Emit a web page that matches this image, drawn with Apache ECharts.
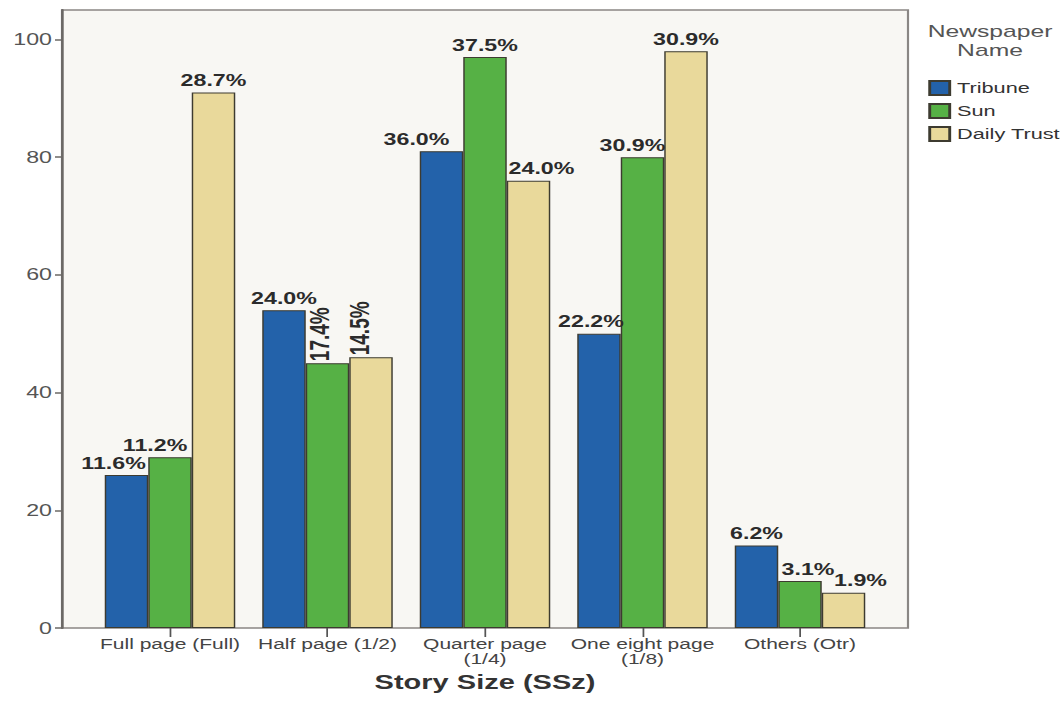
<!DOCTYPE html>
<html>
<head>
<meta charset="utf-8">
<script src="https://cdn.jsdelivr.net/npm/echarts@6/dist/echarts.min.js"></script>
<style>
  html, body { margin: 0; padding: 0; background: #ffffff; overflow: hidden; }
  #wrap { width: 1062px; height: 717px; overflow: hidden; }
  #chart { width: 732px; height: 717px; transform-origin: 0 0; }
</style>
</head>
<body>
<div id="wrap"><div id="chart"></div></div>
<script>
// ---- data ----
const categories = ['Full page (Full)', 'Half page (1/2)', 'Quarter page\n(1/4)', 'One eight page\n(1/8)', 'Others (Otr)'];
const seriesNames = ['Tribune', 'Sun', 'Daily Trust'];
const tribune = [26, 54, 81, 50, 14];
const sun = [29, 45, 97, 80, 8];
const dailyTrust = [91, 46, 76, 98, 6];
const tribuneLabels = ['11.6%', '24.0%', '36.0%', '22.2%', '6.2%'];
const sunLabels = ['11.2%', '17.4%', '37.5%', '30.9%', '3.1%'];
const dailyTrustLabels = ['28.7%', '14.5%', '24.0%', '30.9%', '1.9%'];
const yTicks = [0, 20, 40, 60, 80, 100];
const xTitle = 'Story Size (SSz)';
const legendTitle = 'Newspaper\nName';

// ---- layout (the original image is horizontally stretched) ----
const W = 732, S = 1062 / W;
document.getElementById('chart').style.transform = 'scaleX(' + S + ')';
const X = v => v / S;           // target px -> native px
const FONT = "'Liberation Sans', Arial, sans-serif";

// label offsets (target px) and rotation, per series per category
const labelDx = [
  [-13, 0, -25, -8, 0],
  [-15, -8, 0, -10, 8],
  [0, -11, 13, 0, 17]
];
const labelRot = [
  [false, false, false, false, false],
  [false, true, false, false, false],
  [false, true, false, false, false]
];
const colors = ['#2362aa', '#56b145', '#e9d99b'];
const values = [tribune, sun, dailyTrust];
const texts = [tribuneLabels, sunLabels, dailyTrustLabels];

const series = seriesNames.map((name, si) => ({
  name: name,
  type: 'bar',
  xAxisIndex: 1,
  yAxisIndex: 1,
  barWidth: X(43.5),
  barGap: '0%',
  itemStyle: { color: colors[si], borderColor: '#3d3b30', borderWidth: 1 },
  data: values[si].map((v, ci) => {
    const rot = labelRot[si][ci];
    const lab = {
      show: true,
      position: 'top',
      distance: 4,
      formatter: texts[si][ci],
      fontFamily: FONT,
      fontWeight: 'bold',
      fontSize: 16,
      color: '#2b2b2b'
    };
    if (rot) {
      lab.rotate = 90;
      lab.align = 'left';
      lab.verticalAlign = 'middle';
      lab.fontSize = 19;
      lab.distance = 2;
      lab.offset = [0, X(labelDx[si][ci])];
    } else {
      lab.offset = [X(labelDx[si][ci]), 0];
    }
    return { value: v, label: lab };
  })
}));

const chart = echarts.init(document.getElementById('chart'), null, { renderer: 'svg', width: W, height: 717 });
const frameL = X(62), frameR = X(908);
const barL = X(91.25), barR = X(878.75);
chart.setOption({
  animation: false,
  backgroundColor: '#ffffff',
  grid: [
    { left: frameL, right: W - frameR, top: 10, bottom: 89, show: true,
      backgroundColor: '#f8f7f3', borderColor: '#8a8784', borderWidth: 1.5 },
    { left: barL, right: W - barR, top: 10, bottom: 89 }
  ],
  legend: {
    data: seriesNames,
    orient: 'vertical',
    left: X(921),
    top: 75,
    itemWidth: X(20),
    itemHeight: 14,
    itemGap: 7,
    icon: 'rect',
    textStyle: { fontFamily: FONT, fontSize: 15, color: '#333' }
  },
  graphic: [{
    type: 'text',
    x: X(990),
    y: 21,
    style: {
      text: legendTitle,
      fontFamily: FONT,
      fontSize: 17,
      lineHeight: 19,
      fill: '#555',
      align: 'center',
      verticalAlign: 'top'
    }
  }, {
    type: 'text',
    x: (barL + barR) / 2,
    y: 682,
    style: {
      text: xTitle,
      fontFamily: FONT,
      fontSize: 20,
      fontWeight: 'bold',
      fill: '#333',
      align: 'center',
      verticalAlign: 'middle'
    }
  }],
  xAxis: [
    { type: 'category', gridIndex: 0, data: categories, show: false },
    {
      type: 'category', gridIndex: 1, data: categories,
      axisLine: { show: false },
      axisTick: { show: true, alignWithLabel: true, length: 9, lineStyle: { color: '#555', width: 1.2 } },
      axisLabel: { interval: 0, margin: 9, fontFamily: FONT, fontSize: 14.5, lineHeight: 15, color: '#444' }
    }
  ],
  yAxis: [
    {
      type: 'value', gridIndex: 0, min: 0, max: 105,
      splitLine: { show: false },
      axisLine: { show: true, lineStyle: { color: '#6b6865', width: 1.8 } },
      axisTick: { show: true, length: X(7), customValues: yTicks, lineStyle: { color: '#6b6865', width: 1.5 } },
      axisLabel: { customValues: yTicks, margin: X(10), fontFamily: FONT, fontSize: 16, color: '#555' }
    },
    { type: 'value', gridIndex: 1, min: 0, max: 105, show: false, splitLine: { show: false } }
  ],
  series: series
});
</script>
</body>
</html>
